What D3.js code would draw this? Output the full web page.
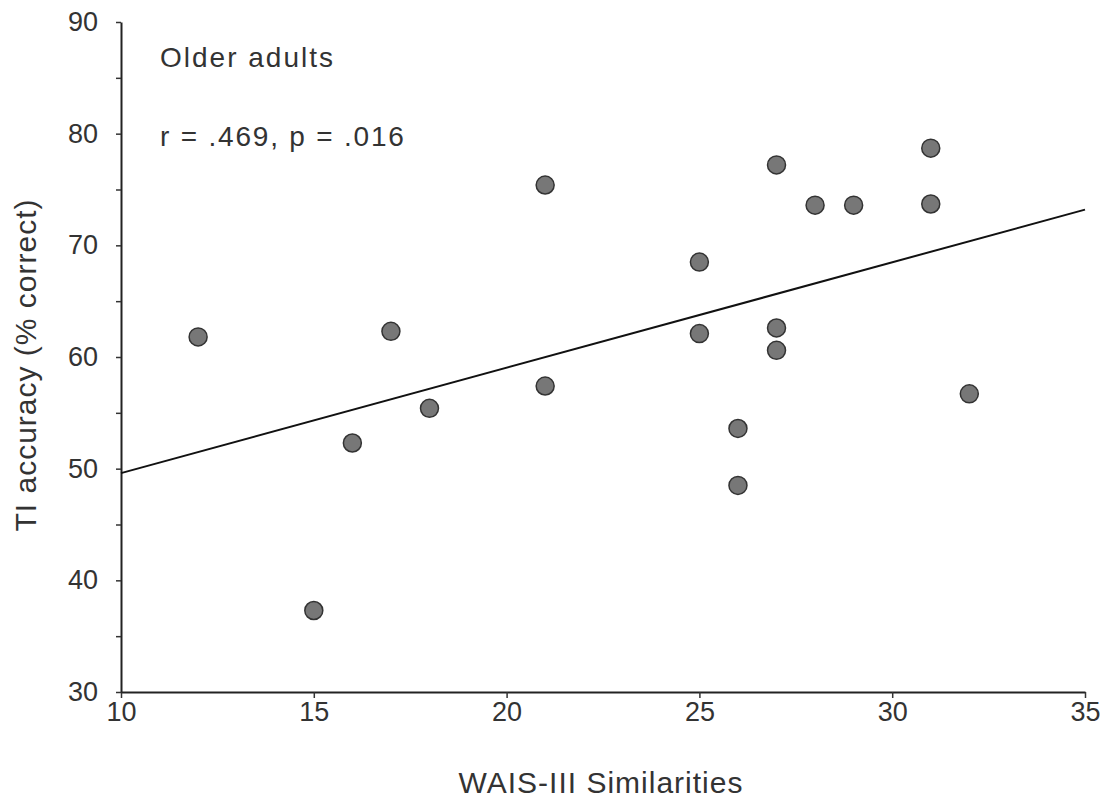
<!DOCTYPE html>
<html>
<head>
<meta charset="utf-8">
<script src="https://cdn.jsdelivr.net/npm/d3@7"></script>
<style>
  body { margin: 0; background: #fff; }
  text { font-family: "Liberation Sans", Arial, sans-serif; fill: #333; }
</style>
</head>
<body>
<div id="chart"></div>
<script>
// WAIS-III similarities score vs TI accuracy, older adults
const wais = [12, 15, 16, 17, 18, 21, 21, 25, 25, 26, 26, 27, 27, 27, 28, 29, 31, 31, 32];
const accuracy = [61.8, 37.3, 52.3, 62.3, 55.4, 75.4, 57.4, 68.5, 62.1, 53.6, 48.5, 77.2, 62.6, 60.6, 73.6, 73.6, 78.7, 73.7, 56.7];
const fitX = [10, 35];
const fitY = [49.6, 73.2];
const xTicks = [10, 15, 20, 25, 30, 35];
const yTicks = [30, 40, 50, 60, 70, 80, 90];
const yMinor = [35, 45, 55, 65, 75, 85];

(function scatter() {
  let width = 1105,
    height = 803,
    margin = ({ top: 22, right: 20, bottom: 111, left: 121 });

  const svg = d3.select("#chart")
    .append("svg")
    .attr("width", width)
    .attr("height", height);

  let x = d3.scaleLinear([10, 35], [margin.left, 1085]);
  let y = d3.scaleLinear([30, 90], [height - margin.bottom, margin.top]);

  // x axis
  const gx = svg.append("g")
    .attr("transform", `translate(0,${height - margin.bottom})`)
    .call(d3.axisBottom(x).tickValues(xTicks).tickSize(6).tickPadding(4).tickSizeOuter(0));
  gx.selectAll("text").style("font-size", "27px");

  // y axis
  const gy = svg.append("g")
    .attr("transform", `translate(${margin.left},0)`)
    .call(d3.axisLeft(y).tickValues(yTicks).tickSize(5).tickPadding(18).tickSizeOuter(0));
  gy.selectAll("text").style("font-size", "27px");

  svg.append("g")
    .attr("transform", `translate(${margin.left},0)`)
    .call(d3.axisLeft(y).tickValues(yMinor).tickSize(5).tickFormat(""))
    .call(g => g.select(".domain").remove());

  svg.selectAll(".domain").attr("stroke", "#222").attr("stroke-width", 2);
  svg.selectAll(".tick line").attr("stroke", "#333").attr("stroke-width", 1.5);

  // regression line
  svg.append("line")
    .attr("x1", x(fitX[0])).attr("y1", y(fitY[0]))
    .attr("x2", x(fitX[1])).attr("y2", y(fitY[1]))
    .attr("stroke", "#111")
    .attr("stroke-width", 2);

  // points
  svg.append("g")
    .selectAll("circle")
    .data(wais.map((d, i) => [d, accuracy[i]]))
    .join("circle")
    .attr("cx", d => x(d[0]))
    .attr("cy", d => y(d[1]))
    .attr("r", 9)
    .attr("fill", "#777")
    .attr("stroke", "#333")
    .attr("stroke-width", 1.5);

  // annotations
  svg.append("text").attr("x", 160).attr("y", 67).text("Older adults")
    .style("font-size", "28px").style("letter-spacing", "2px");
  svg.append("text").attr("x", 160).attr("y", 146).text("r = .469, p = .016")
    .style("font-size", "28px").style("letter-spacing", "1.8px");

  // axis titles
  svg.append("text")
    .attr("x", 601).attr("y", 793)
    .attr("text-anchor", "middle")
    .style("font-size", "30px")
    .style("letter-spacing", "1px")
    .text("WAIS-III Similarities");

  svg.append("text")
    .attr("transform", "translate(36,365) rotate(-90)")
    .attr("text-anchor", "middle")
    .style("font-size", "30px")
    .style("letter-spacing", "1px")
    .text("TI accuracy (% correct)");
})();
</script>
</body>
</html>
